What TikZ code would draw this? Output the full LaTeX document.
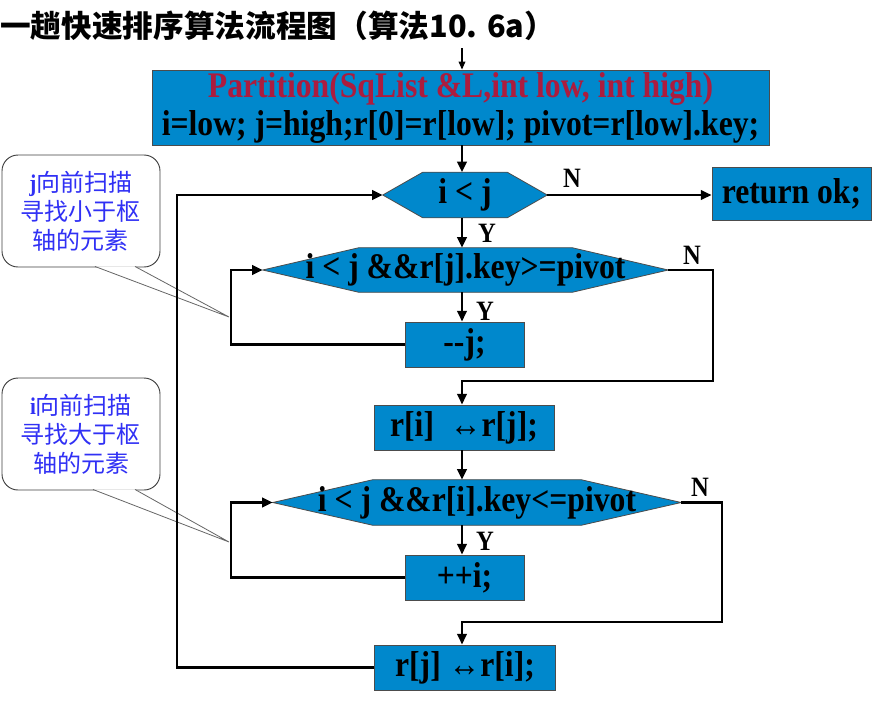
\documentclass[tikz,border=0pt]{standalone}
\usepackage{fontspec}
\setmainfont{Liberation Serif}
\newfontfamily\cjk{Noto Sans CJK SC}
\newfontfamily\flowfont[FakeStretch=0.88]{Liberation Serif Bold}
\usetikzlibrary{positioning,calc,backgrounds,arrows.meta}
\definecolor{flowblue}{RGB}{0,136,204}
\definecolor{headred}{RGB}{172,28,62}
\definecolor{noteblue}{RGB}{48,48,245}
\tikzset{
  stepbox/.style={draw=black!70,line width=.6pt,fill=flowblue,inner sep=0pt,align=center,font=\flowfont\fontsize{27}{28.5}\selectfont},
  hexbox/.style={inner sep=0pt,align=center,font=\flowfont\fontsize{27}{28.5}\selectfont},
  hexshape/.style={draw=black!70,line width=.6pt,fill=flowblue},
  flow/.style={-{Triangle[length=8pt,width=7pt]},line width=2pt},
  entryarr/.style={-{Triangle[length=6pt,width=5pt]},line width=1pt},
  yn/.style={font=\flowfont\fontsize{21}{22}\selectfont,inner sep=0pt},
  note/.style={draw=black!75,line width=.7pt,rounded corners=12pt,fill=white,align=center,text=noteblue,font=\cjk\fontsize{18}{21.75}\selectfont,minimum width=118.5pt,minimum height=84pt},
  notetip/.style={draw=black!60,line width=.6pt,fill=white}
}
\begin{document}
\begin{tikzpicture}[x=0.75pt,y=-0.75pt]
  \useasboundingbox (0,0) rectangle (889,704);
  % title
  \node[anchor=west,inner sep=0pt,font=\cjk\bfseries\fontsize{23}{26}\selectfont] (title) at (0,26) {一趟快速排序算法流程图（算法10. 6a）};

  % side notes
  \node[note] (jnote) at (81,211) {{\flowfont j}向前扫描\\寻找小于枢\\轴的元素};
  \node[note] (inote) at (81,434) {{\flowfont i}向前扫描\\寻找大于枢\\轴的元素};
  \coordinate (jtip) at (229,317);
  \coordinate (itip) at (229,542);
  \filldraw[notetip] ($(jnote.south)+(14,-1)$) -- (jtip) -- ($(jnote.south)+(54,-1)$);
  \filldraw[notetip] ($(inote.south)+(12,-1)$) -- (itip) -- ($(inote.south)+(54,-1)$);

  % main column
  \node[stepbox,minimum width=462.75pt,minimum height=56.25pt] (init) at (460.5,107.5)
    {\textcolor{headred}{Partition(SqList \&L,int low, int high)}\\i=low; j=high;r[0]=r[low]; pivot=r[low].key;};
  \node[hexbox,minimum width=123pt,minimum height=33.75pt] (hex1) at (465,195) {i < j};
  \node[stepbox,minimum width=119.25pt,minimum height=39.75pt] (ret) at (791.5,193.5) {return ok;};
  \node[hexbox,minimum width=303.75pt,minimum height=33pt] (hex2) at (465.5,270) {i < j \&\&r[j].key>=pivot};
  \node[stepbox,minimum width=89.25pt,minimum height=33.75pt] (dj) at (464.5,344.5) {-{}-j;};
  \node[stepbox,minimum width=135pt,minimum height=33.75pt] (sw1) at (464,427.5) {r[i] \ ↔r[j];};
  \node[hexbox,minimum width=306pt,minimum height=33.75pt] (hex3) at (477,502.5) {i < j \&\&r[i].key<=pivot};
  \node[stepbox,minimum width=89.25pt,minimum height=33.75pt] (pi) at (464.5,577.5) {++i;};
  \node[stepbox,minimum width=135.75pt,minimum height=33.75pt] (sw2) at (465,667.5) {r[j] ↔r[i];};

  % hexagon outlines behind the texts
  \begin{scope}[on background layer]
    \foreach \h/\c in {hex1/40,hex2/96,hex3/100}
      \filldraw[hexshape] (\h.west) -- ($(\h.north west)+(\c,0)$) -- ($(\h.north east)+(-\c,0)$)
        -- (\h.east) -- ($(\h.south east)+(-\c,0)$) -- ($(\h.south west)+(\c,0)$) -- cycle;
  \end{scope}

  % Y / N labels
  \node[yn] (y1) at (487,233) {Y};
  \node[yn] (y2) at (485,311) {Y};
  \node[yn] (y3) at (485,541) {Y};
  \node[yn] (n1) at (572,178) {N};
  \node[yn] (n2lab) at (692,255) {N};
  \node[yn] (n3lab) at (700,487) {N};

  % connectors
  \coordinate (entry) at (462,48);
  \coordinate (col) at (462,0);
  \coordinate (inx) at (231,0);
  \coordinate (outx) at (177,0);
  \coordinate (n2) at (713,381);
  \coordinate (n3) at (722,622);
  \draw[entryarr] (entry) -- (entry |- init.north);
  \foreach \a/\b in {init/hex1,hex1/hex2,hex2/dj,sw1/hex3,hex3/pi}
    \draw[flow] (\a.south -| col) -- (\b.north -| col);
  \draw[flow] (hex1.east) -- (hex1.east -| ret.west);
  \draw[flow] (hex2.east) -| (n2) -| (sw1.north -| col);
  \draw[flow] (hex3.east) -| (n3) -| (sw2.north -| col);
  \draw[flow] (dj.west) -- (dj.west -| inx) |- (hex2.west);
  \draw[flow] (pi.west) -- (pi.west -| inx) |- (hex3.west);
  \draw[flow] (sw2.west) -- (sw2.west -| outx) |- (hex1.west);
\end{tikzpicture}
\end{document}
